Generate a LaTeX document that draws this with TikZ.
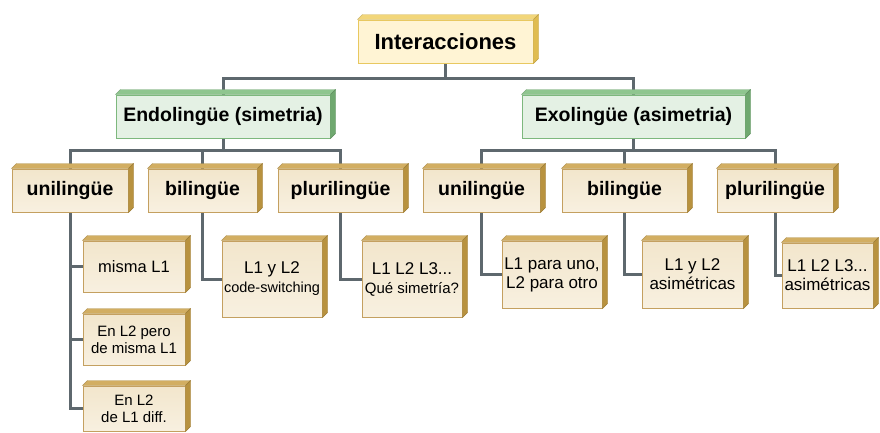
\documentclass[tikz,border=0pt]{standalone}
\usepackage{fontspec}
\setmainfont{Liberation Sans}
\usetikzlibrary{backgrounds,calc}
\definecolor{goldborder}{HTML}{C4A060}
\definecolor{goldtop}{HTML}{D2AE62}
\definecolor{goldside}{HTML}{B8923F}
\definecolor{goldface}{HTML}{F2E6CC}
\definecolor{goldfaceb}{HTML}{F8F0E0}
\definecolor{greenborder}{HTML}{7DB87D}
\definecolor{greentop}{HTML}{8FC68F}
\definecolor{greenside}{HTML}{6FA86F}
\definecolor{greenface}{HTML}{E4F1E4}
\definecolor{yelborder}{HTML}{E8C860}
\definecolor{yeltop}{HTML}{F2D67A}
\definecolor{yelside}{HTML}{E0BC50}
\definecolor{yelface}{HTML}{FFF4D4}
\definecolor{conn}{HTML}{5E686E}
\newcommand{\hfont}{\fontsize{19.5}{22}\bfseries\selectfont}
\newcommand{\lfont}{\fontsize{17}{19}\selectfont}
\newcommand{\sfont}{\fontsize{15}{17}\selectfont}
\newcommand{\bevelbox}[3]{%
  \fill[#2, draw=#2!85!black, line width=0.4pt] (#1.north west) -- ++(5pt,5pt) -- ($(#1.north east)+(5pt,5pt)$) -- (#1.north east) -- cycle;
  \fill[#3, draw=#3!85!black, line width=0.4pt] (#1.north east) -- ++(5pt,5pt) -- ($(#1.south east)+(5pt,5pt)$) -- (#1.south east) -- cycle;}
\begin{document}
\begin{tikzpicture}[x=1pt,y=-1pt,
  basebox/.style={rectangle, line width=1pt, inner sep=0pt, align=center},
  goldbox/.style={basebox, draw=goldborder, top color=goldface, middle color=white, bottom color=goldfaceb},
  greenbox/.style={basebox, draw=greenborder, top color=greenface, middle color=white, bottom color=greenface, minimum width=#1, minimum height=43pt, font=\hfont},
  rootbox/.style={basebox, draw=yelborder, top color=yelface, middle color=white, bottom color=yelface},
  midbox/.style={goldbox, minimum width=#1, minimum height=43pt, font=\hfont},
  leafbox/.style={goldbox, minimum width=#1, font=\lfont},
  link/.style={draw=conn, line width=3pt}]
\useasboundingbox (0,0) rectangle (880,432);

% root
\node[rootbox, minimum width=175pt, minimum height=43pt, font=\fontsize{22}{24}\bfseries\selectfont] (root) at (445.5,41.5) {Interacciones};
% level 1
\node[greenbox=214pt] (endo) at (223,116.5) {Endolingüe (simetria)};
\node[greenbox=223pt] (exo) at (633.5,116.5) {Exolingüe (asimetria)};
% level 2
\node[midbox=116pt] (uniL) at (70,190.5) {unilingüe};
\node[midbox=109pt] (biL) at (202.5,190.5) {bilingüe};
\node[midbox=125pt] (pluL) at (340.5,190.5) {plurilingüe};
\node[midbox=117pt] (uniR) at (481.5,190.5) {unilingüe};
\node[midbox=125pt] (biR) at (624.5,190.5) {bilingüe};
\node[midbox=116pt] (pluR) at (775,190.5) {plurilingüe};
% leaves
\node[leafbox=102pt, minimum height=51pt, font=\fontsize{16.5}{18}\selectfont] (misma) at (134,266.5) {misma L1};
\node[leafbox=102pt, minimum height=51pt, font=\sfont] (pero) at (134,339.5) {En L2 pero\\de misma L1};
\node[leafbox=102pt, minimum height=45pt, font=\sfont] (diff) at (134,408.5) {En L2\\de L1 diff.};
\node[leafbox=100pt, minimum height=76pt] (code) at (272,279) {L1 y L2\\{\fontsize{14.5}{16}\selectfont code-switching}};
\node[leafbox=100pt, minimum height=76pt] (que) at (412,279) {L1 L2 L3...\\{\sfont Qué simetría?}};
\node[leafbox=100pt, minimum height=67pt] (para) at (552,274.5) {L1 para uno,\\L2 para otro};
\node[leafbox=101pt, minimum height=67pt] (asim) at (692.5,274.5) {L1 y L2\\asimétricas};
\node[leafbox=91pt, minimum height=65pt] (asimp) at (827.5,275.5) {L1 L2 L3...\\asimétricas};

% bevels
\bevelbox{root}{yeltop}{yelside}
\foreach \n in {endo,exo}{\bevelbox{\n}{greentop}{greenside}}
\foreach \n in {uniL,biL,pluL,uniR,biR,pluR,misma,pero,diff,code,que,para,asim,asimp}{\bevelbox{\n}{goldtop}{goldside}}

% connectors
\begin{scope}[on background layer]
\draw[link] (root.south) -- ++(0,15) coordinate (r1);
\draw[link] (endo.north) |- (r1) -| (exo.north);
\draw[link] (endo.south) -- ++(0,12) coordinate (e1);
\draw[link] (uniL.north) |- (e1) -| (pluL.north);
\draw[link] (biL.north) -- (biL.north |- e1);
\draw[link] (exo.south) -- ++(0,12) coordinate (x1);
\draw[link] (uniR.north) |- (x1) -| (pluR.north);
\draw[link] (biR.north) -- (biR.north |- x1);
\draw[link] (uniL.south) |- (diff.west);
\draw[link] (uniL.south |- misma.west) -- (misma.west);
\draw[link] (uniL.south |- pero.west) -- (pero.west);
\draw[link] (biL.south) |- (code.west);
\draw[link] (pluL.south) |- (que.west);
\draw[link] (uniR.south) |- (para.west);
\draw[link] (biR.south) |- (asim.west);
\draw[link] (pluR.south) |- (asimp.west);
\end{scope}
\end{tikzpicture}
\end{document}
